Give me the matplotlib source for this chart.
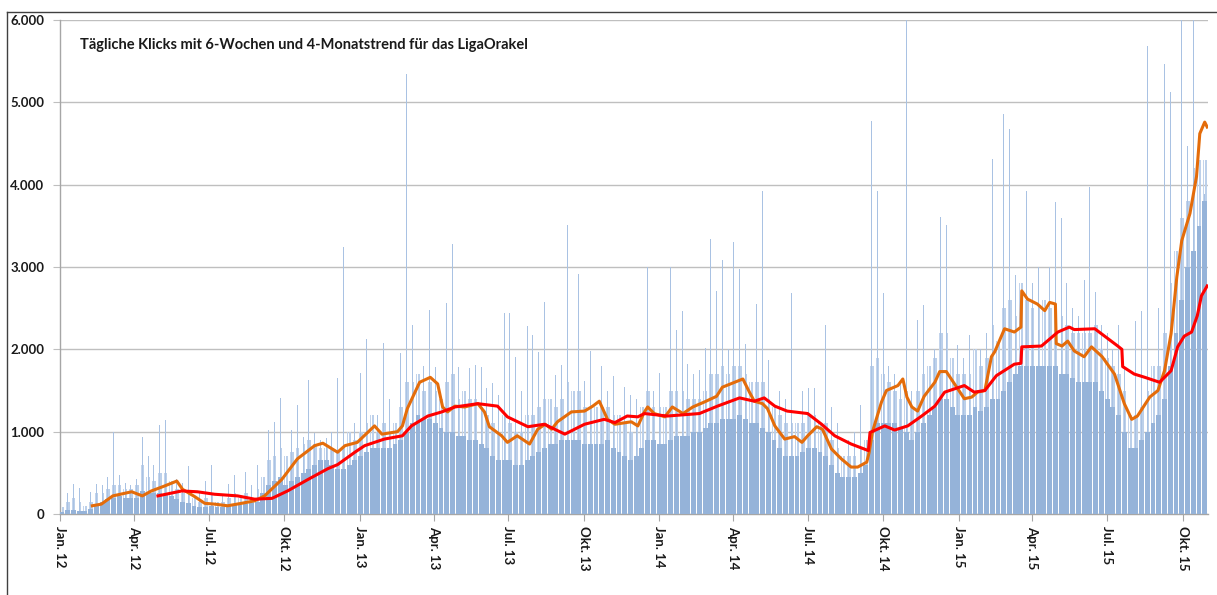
import pandas as pd
import matplotlib
matplotlib.use("Agg")
import matplotlib.pyplot as plt
from matplotlib.lines import Line2D
from matplotlib.ticker import FuncFormatter


# Daily clicks, one calendar week at a time (weeks start 2012-01-01).
# typical = dense block of daily bars, high = top of the lighter cloud of busier days,
# peak = tallest single day of the week (values above 6000 are cut off by the axis)
FIRST_WEEK = "2012-01-01"
WEEKLY_TYPICAL = [
    30, 50, 50, 40, 40, 60, 120, 150, 180, 200, 220, 200, 200,
    200, 280, 250, 250, 250, 230, 220, 180, 150, 130, 100, 90, 90,
    100, 90, 90, 100, 110, 110, 120, 130, 150, 250, 350, 400, 450,
    350, 400, 450, 500, 550, 600, 650, 650, 600, 550, 550, 600, 650,
    700, 750, 800, 800, 800, 800, 850, 900, 1000, 1100, 1200, 1150, 1150,
    1100, 1050, 1000, 1000, 950, 950, 900, 900, 850, 800, 700, 650, 650,
    650, 600, 600, 650, 700, 750, 800, 850, 850, 900, 900, 900, 900,
    850, 850, 850, 850, 900, 800, 750, 700, 650, 700, 800, 900, 900,
    850, 850, 900, 950, 950, 950, 1000, 1000, 1050, 1100, 1100, 1150, 1150,
    1150, 1200, 1150, 1100, 1100, 1050, 1000, 900, 800, 700, 700, 700, 750,
    800, 800, 750, 700, 600, 500, 450, 450, 450, 500, 600, 900, 1100,
    1100, 1100, 1100, 1050, 1000, 900, 1000, 1100, 1200, 1300, 1400, 1400, 1300,
    1200, 1200, 1200, 1300, 1250, 1300, 1400, 1400, 1500, 1600, 1700, 1800, 1800,
    1800, 1800, 1800, 1800, 1800, 1700, 1700, 1650, 1600, 1600, 1600, 1600, 1500,
    1400, 1300, 1200, 1000, 800, 800, 900, 1000, 1100, 1200, 1400, 1800, 2200,
    2600, 3000, 3200, 3500, 3800,
]
WEEKLY_HIGH = [
    80, 150, 200, 150, 100, 150, 250, 250, 300, 350, 350, 300, 300,
    350, 600, 450, 400, 500, 500, 400, 300, 250, 250, 200, 150, 200,
    250, 150, 150, 200, 250, 200, 250, 200, 300, 450, 650, 700, 800,
    700, 750, 800, 850, 900, 850, 800, 800, 800, 750, 800, 1000, 900,
    1000, 1100, 1200, 1000, 1100, 1000, 1100, 1300, 1600, 1600, 1700, 1500, 1600,
    1500, 1400, 1600, 1700, 1400, 1500, 1400, 1400, 1300, 1200, 1100, 1000, 1200,
    1100, 1000, 1000, 1200, 1200, 1300, 1400, 1400, 1300, 1400, 1600, 1500, 1500,
    1300, 1300, 1300, 1300, 1300, 1200, 1200, 1100, 1000, 1100, 1300, 1500, 1300,
    1300, 1300, 1500, 1500, 1500, 1400, 1400, 1400, 1500, 1700, 1700, 1800, 1700,
    1800, 1800, 1700, 1600, 1600, 1600, 1400, 1300, 1200, 1100, 1100, 1100, 1100,
    1200, 1200, 1100, 1100, 900, 800, 700, 700, 700, 800, 900, 1800, 1900,
    1700, 1600, 1500, 1400, 1500, 1300, 1500, 1700, 1800, 1900, 2200, 2200, 1900,
    1700, 1700, 1700, 2000, 1800, 1900, 2300, 2100, 2500, 2600, 2400, 2800, 2600,
    2500, 2500, 2600, 2500, 2500, 2400, 2300, 2200, 2200, 2200, 2200, 2300, 2000,
    1900, 1800, 1700, 1500, 1200, 1200, 1300, 1500, 1800, 1800, 2200, 2800, 3200,
    3600, 3800, 4200, 4300, 4300,
]
WEEKLY_PEAK = [
    150, 250, 370, 320, 150, 270, 360, 350, 450, 990, 470, 380, 350,
    420, 940, 700, 600, 1080, 1140, 600, 420, 380, 580, 350, 250, 400,
    600, 250, 230, 370, 470, 300, 510, 350, 590, 700, 1020, 1120, 1410,
    1100, 1020, 1320, 940, 1630, 980, 900, 920, 1000, 1650, 3240, 1150, 1100,
    1710, 2120, 2630, 1200, 2080, 1400, 1630, 1950, 5340, 2300, 2500, 1800, 2480,
    1790, 1850, 2560, 3280, 1790, 2160, 1770, 1810, 1790, 1530, 1590, 1440, 2440,
    2440, 1910, 1500, 2280, 2170, 1970, 2580, 1890, 1690, 1810, 3510, 2540, 2920,
    1620, 1980, 1600, 1800, 1500, 1680, 2730, 1540, 1440, 1400, 2410, 3000, 1500,
    1710, 1600, 3000, 2230, 2470, 1820, 1700, 1750, 2020, 3340, 2710, 3090, 2000,
    3300, 2980, 2060, 1800, 2550, 3920, 1870, 1600, 1500, 1400, 2680, 1850, 1500,
    1530, 1530, 1400, 2300, 1300, 1100, 900, 900, 1000, 1320, 1200, 4770, 3920,
    2690, 1800, 1700, 1600, 6500, 1500, 2360, 2540, 2660, 2000, 3610, 3510, 2000,
    2050, 1900, 2170, 3850, 2000, 2200, 4310, 2500, 4860, 4680, 2900, 6500, 3920,
    2800, 3000, 4410, 3000, 3790, 3590, 2800, 2500, 2400, 2840, 3970, 2700, 2300,
    2200, 2000, 2300, 1800, 1700, 2340, 2460, 5680, 3560, 2500, 5470, 5130, 6500,
    6500, 4470, 6500, 6500, 3890,
]

# 6-week moving average (orange)
TREND_6W_DATES = [
    "2012-02-10", "2012-02-21", "2012-03-06", "2012-03-29", "2012-04-11", "2012-04-22",
    "2012-05-08", "2012-05-23", "2012-05-30", "2012-06-14", "2012-06-26", "2012-07-08",
    "2012-07-24", "2012-08-10", "2012-08-26", "2012-09-07", "2012-09-28", "2012-10-17",
    "2012-11-07", "2012-11-17", "2012-12-05", "2012-12-14", "2012-12-29",
    "2013-01-19", "2013-01-28", "2013-02-16", "2013-02-22", "2013-02-28", "2013-03-15",
    "2013-03-28", "2013-04-06", "2013-04-12", "2013-04-18", "2013-04-27", "2013-05-09",
    "2013-05-25", "2013-06-02", "2013-06-08", "2013-06-23", "2013-06-30", "2013-07-12",
    "2013-07-27", "2013-08-06", "2013-08-15", "2013-08-23", "2013-08-30", "2013-09-16",
    "2013-10-02", "2013-10-12", "2013-10-20", "2013-10-30", "2013-11-08", "2013-11-28",
    "2013-12-06", "2013-12-14", "2013-12-18", "2013-12-26",
    "2014-01-08", "2014-01-17", "2014-01-30", "2014-02-11", "2014-02-25", "2014-03-12",
    "2014-03-19", "2014-04-03", "2014-04-13", "2014-04-21", "2014-04-27", "2014-05-07",
    "2014-05-13", "2014-05-22", "2014-06-03", "2014-06-15", "2014-06-24", "2014-07-01",
    "2014-07-12", "2014-07-19", "2014-07-30", "2014-08-11", "2014-08-23", "2014-08-31",
    "2014-09-11", "2014-09-14", "2014-09-18", "2014-09-29", "2014-10-05", "2014-10-19",
    "2014-10-25", "2014-10-30", "2014-11-05", "2014-11-12", "2014-11-20", "2014-12-03",
    "2014-12-09", "2014-12-17", "2014-12-27",
    "2015-01-08", "2015-01-17", "2015-01-24", "2015-02-02", "2015-02-10", "2015-02-14",
    "2015-02-26", "2015-03-10", "2015-03-18", "2015-03-19", "2015-03-26", "2015-04-07",
    "2015-04-16", "2015-04-22", "2015-04-29", "2015-04-30", "2015-05-07", "2015-05-14",
    "2015-05-22", "2015-06-03", "2015-06-12", "2015-06-25", "2015-07-10", "2015-07-22",
    "2015-07-31", "2015-08-07", "2015-08-22", "2015-09-01", "2015-09-09", "2015-09-17",
    "2015-09-24", "2015-09-30", "2015-10-10", "2015-10-18", "2015-10-22", "2015-10-28",
    "2015-10-31",
]
TREND_6W = [
    100, 120, 220, 270, 220, 280, 340, 400, 300, 210, 130, 120,
    100, 130, 160, 220, 420, 670, 830, 860, 750, 830, 870,
    1070, 970, 1000, 1070, 1280, 1600, 1660, 1580, 1300, 1240, 1310, 1300,
    1340, 1240, 1060, 950, 870, 950, 850, 1030, 1090, 1030, 1120, 1240,
    1250, 1310, 1370, 1150, 1090, 1120, 1070, 1240, 1300, 1220,
    1180, 1300, 1220, 1300, 1360, 1430, 1540, 1600, 1640, 1480, 1370, 1340,
    1280, 1070, 910, 940, 870, 950, 1060, 1030, 790, 670, 570, 570,
    630, 750, 1000, 1360, 1500, 1560, 1640, 1420, 1300, 1250, 1430, 1600,
    1730, 1730, 1580,
    1400, 1420, 1480, 1500, 1910, 1970, 2250, 2210, 2270, 2710, 2610, 2550,
    2470, 2570, 2550, 2070, 2040, 2100, 1980, 1910, 2030, 1910, 1700, 1340,
    1150, 1190, 1420, 1500, 1740, 2190, 2880, 3320, 3650, 4100, 4620, 4760,
    4700,
]

# 4-month moving average (red)
TREND_4M_DATES = [
    "2012-04-30", "2012-05-29", "2012-06-17", "2012-07-08", "2012-08-05", "2012-08-26",
    "2012-09-16", "2012-10-05", "2012-10-30", "2012-11-23", "2012-12-05", "2012-12-26",
    "2013-01-07", "2013-01-31", "2013-02-22", "2013-03-05", "2013-03-25", "2013-04-11",
    "2013-04-27", "2013-05-25", "2013-06-18", "2013-06-30", "2013-07-25", "2013-08-14",
    "2013-09-08", "2013-10-02", "2013-10-26", "2013-11-08", "2013-11-23", "2013-12-06",
    "2013-12-14",
    "2014-01-11", "2014-02-19", "2014-03-13", "2014-04-09", "2014-04-27", "2014-05-09",
    "2014-05-22", "2014-06-06", "2014-07-01", "2014-07-18", "2014-08-03", "2014-08-23",
    "2014-09-13", "2014-09-15", "2014-10-03", "2014-10-15", "2014-10-31", "2014-11-17",
    "2014-12-03", "2014-12-15",
    "2015-01-08", "2015-01-20", "2015-02-02", "2015-02-16", "2015-03-10", "2015-03-18",
    "2015-03-19", "2015-04-12", "2015-05-02", "2015-05-16", "2015-05-22", "2015-06-16",
    "2015-06-28", "2015-07-14", "2015-07-19", "2015-07-20", "2015-08-03", "2015-08-16",
    "2015-09-03", "2015-09-17", "2015-09-25", "2015-10-03", "2015-10-12", "2015-10-19",
    "2015-10-24", "2015-10-31",
]
TREND_4M = [
    220, 280, 270, 240, 220, 180, 190, 280, 420, 550, 600, 750,
    830, 910, 950, 1070, 1190, 1240, 1300, 1340, 1310, 1180, 1060, 1090,
    970, 1090, 1150, 1110, 1190, 1180, 1220,
    1190, 1220, 1310, 1410, 1370, 1410, 1310, 1250, 1220, 1090, 950, 850,
    770, 990, 1070, 1020, 1070, 1190, 1310, 1480,
    1560, 1480, 1500, 1680, 1820, 1830, 2030, 2040, 2210, 2270, 2240, 2250,
    2160, 2040, 2000, 1790, 1700, 1660, 1600, 1740, 2030, 2160, 2210, 2410,
    2650, 2770,
]

QUARTER_LABELS = [
    "Jan. 12", "Apr. 12", "Jul. 12", "Okt. 12",
    "Jan. 13", "Apr. 13", "Jul. 13", "Okt. 13",
    "Jan. 14", "Apr. 14", "Jul. 14", "Okt. 14",
    "Jan. 15", "Apr. 15", "Jul. 15", "Okt. 15",
]
TITLE = "Tägliche Klicks mit 6-Wochen und 4-Monatstrend für das LigaOrakel"

plt.rcParams["font.family"] = ["Lato", "DejaVu Sans"]

W, H = 1217, 595
fig = plt.figure(figsize=(W / 100, H / 100), dpi=100)
ax = fig.add_axes([59.5 / W, 81 / H, (1208 - 59.5) / W, 494 / H])

weeks = pd.date_range(FIRST_WEEK, periods=len(WEEKLY_TYPICAL), freq="7D")
mid = weeks + pd.Timedelta(days=3)

# single tall days, the lighter cloud of busier days, then the dense block
ax.bar(mid, WEEKLY_PEAK, width=1.0, color="#a9c2e3", linewidth=0, zorder=2)
ax.bar(mid + pd.Timedelta(days=1.5), WEEKLY_HIGH, width=2.0, color="#bcd0ea",
       linewidth=0, zorder=2)
ax.bar(mid - pd.Timedelta(days=1.5), WEEKLY_HIGH, width=1.0, color="#c3d4ec",
       linewidth=0, zorder=2)
ax.bar(mid, WEEKLY_TYPICAL, width=6.0, color="#95b3d9", linewidth=0, zorder=3)

ax.plot(pd.to_datetime(TREND_6W_DATES), TREND_6W, color="#e46c0a", lw=2.2,
        solid_joinstyle="round", zorder=4)
ax.plot(pd.to_datetime(TREND_4M_DATES), TREND_4M, color="#ff0000", lw=2.2,
        solid_joinstyle="round", zorder=5)

ax.set_xlim(pd.Timestamp("2012-01-01"), pd.Timestamp("2015-11-01"))
ax.set_ylim(0, 6000)

ticks = pd.date_range("2012-01-01", periods=len(QUARTER_LABELS), freq="QS")
ax.set_xticks(ticks)
ax.set_xticklabels(QUARTER_LABELS, rotation=-90, fontsize=9.5, fontweight="bold",
                   color="#1a1a1a")
ax.set_yticks(range(0, 6001, 1000))
ax.yaxis.set_major_formatter(FuncFormatter(lambda v, _: f"{int(v):,}".replace(",", ".")))
for label in ax.get_yticklabels():
    label.set_fontweight("bold")
    label.set_fontsize(9.5)
    label.set_color("#1a1a1a")

ax.grid(axis="y", color="#bfbfbf", lw=1.0)
ax.set_axisbelow(True)
ax.tick_params(axis="x", length=5, color="#a6a6a6", pad=4)
ax.tick_params(axis="y", length=5, color="#bfbfbf", pad=6)
for side in ("top", "right"):
    ax.spines[side].set_visible(False)
for side in ("left", "bottom"):
    ax.spines[side].set_color("#a6a6a6")
    ax.spines[side].set_linewidth(1.0)

fig.text(80 / W, 1 - 45 / H, TITLE, fontsize=10.5, fontweight="bold",
         color="#1a1a1a", va="center", ha="left")

# outer chart frame (top and left edges show in the image)
fig.add_artist(Line2D([7 / W, 1.0], [1 - 12 / H, 1 - 12 / H], color="#404040", lw=1.0))
fig.add_artist(Line2D([7 / W, 7 / W], [0, 1 - 12 / H], color="#404040", lw=1.0))

fig.savefig("out.png", dpi=100)
